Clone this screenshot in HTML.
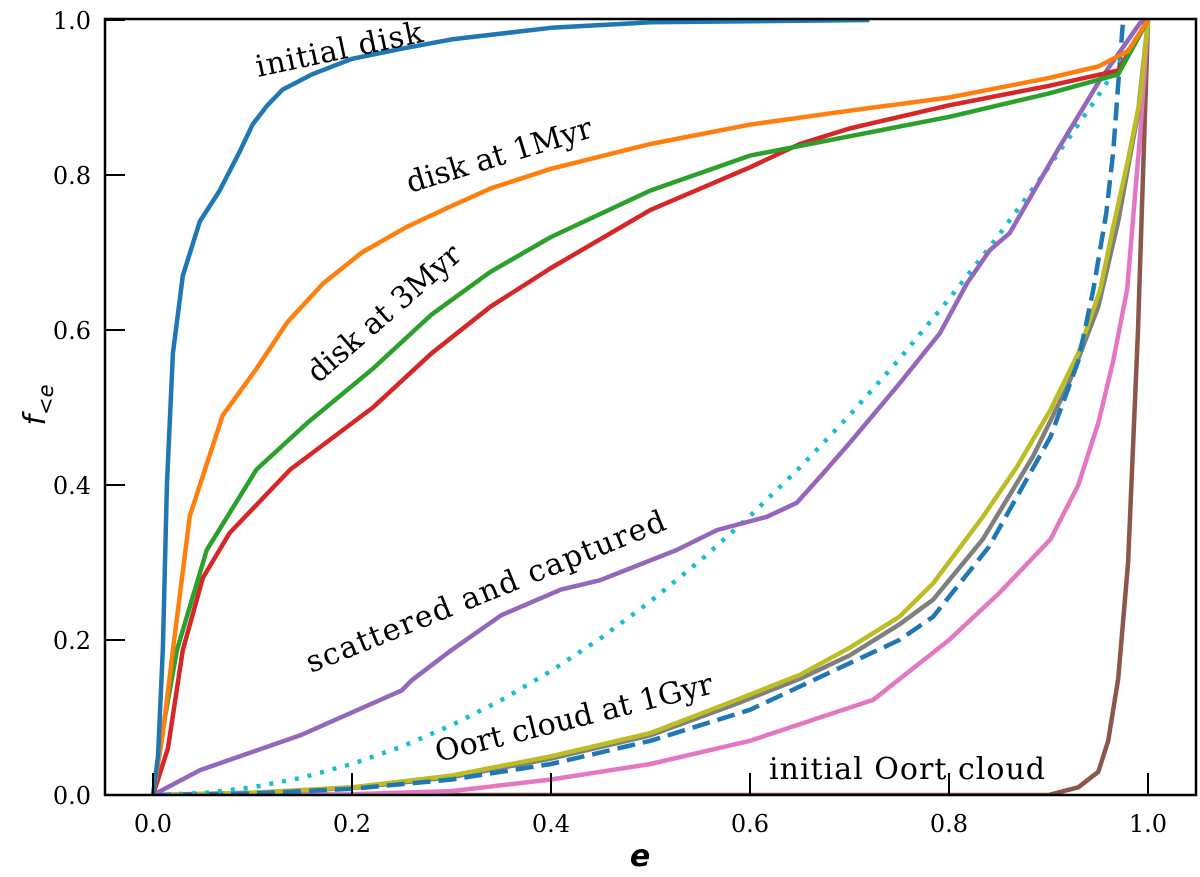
<!DOCTYPE html>
<html><head><meta charset="utf-8"><style>
body{margin:0;background:#fff;}
svg{display:block;font-family:"DejaVu Serif","Liberation Serif",serif;}
</style></head><body>
<svg id="chart" width="1200" height="877" viewBox="0 0 1200 877">
<defs><clipPath id="clip"><rect x="105" y="19" width="1091" height="776"/></clipPath></defs>
<g id="series" clip-path="url(#clip)"></g>
<rect x="105" y="19" width="1091" height="776" fill="none" stroke="#000" stroke-width="2.5"/>
<g id="axes"></g>
<g font-size="30" fill="#000">
<text transform="translate(258,77) rotate(-12)" textLength="170">initial disk</text>
<text transform="translate(410,193) rotate(-17)">disk at 1Myr</text>
<text transform="translate(318,384) rotate(-41)">disk at 3Myr</text>
<text transform="translate(311,673) rotate(-22)" textLength="385">scattered and captured</text>
<text transform="translate(438,762) rotate(-14)">Oort cloud at 1Gyr</text>
<text x="769" y="779" textLength="276">initial Oort cloud</text>
</g>
<text x="640" y="866" font-family="'DejaVu Sans',sans-serif" font-style="italic" font-weight="bold" font-size="30" text-anchor="middle">e</text>
<text transform="translate(45,405) rotate(-90)" font-family="'DejaVu Sans',sans-serif" font-style="italic" font-size="30" text-anchor="middle">f<tspan font-size="21" dy="8">&lt;e</tspan></text>
</svg>
<script>
const xTicks=[0,0.2,0.4,0.6,0.8,1.0];
const yTicks=[0,0.2,0.4,0.6,0.8,1.0];
const tickLabels=["0.0","0.2","0.4","0.6","0.8","1.0"];
const initDiskE=[0,0.005,0.01,0.014,0.02,0.03,0.047,0.067,0.087,0.1,0.115,0.13,0.16,0.2,0.25,0.3,0.4,0.5,0.72];
const initDiskF=[0,0.05,0.19,0.4,0.57,0.67,0.74,0.78,0.83,0.865,0.89,0.91,0.93,0.95,0.963,0.975,0.99,0.997,1.0];
const disk1E=[0,0.01,0.02,0.037,0.07,0.104,0.135,0.171,0.21,0.255,0.3,0.34,0.4,0.5,0.6,0.7,0.8,0.9,0.95,0.98,1.0];
const disk1F=[0,0.08,0.187,0.36,0.49,0.55,0.61,0.66,0.7,0.733,0.76,0.783,0.808,0.84,0.865,0.883,0.9,0.925,0.94,0.96,1.0];
const disk3E=[0,0.012,0.024,0.054,0.104,0.155,0.221,0.28,0.339,0.4,0.5,0.6,0.7,0.8,0.9,0.97,1.0];
const disk3F=[0,0.1,0.187,0.316,0.42,0.48,0.55,0.62,0.675,0.72,0.78,0.825,0.85,0.875,0.905,0.93,1.0];
const disk3bE=[0,0.015,0.03,0.05,0.077,0.138,0.221,0.28,0.339,0.4,0.5,0.6,0.65,0.7,0.8,0.9,0.97,1.0];
const disk3bF=[0,0.06,0.187,0.28,0.338,0.42,0.5,0.57,0.63,0.68,0.755,0.81,0.84,0.86,0.89,0.915,0.935,1.0];
const scatE=[0,0.047,0.148,0.25,0.26,0.3,0.35,0.41,0.449,0.526,0.567,0.617,0.647,0.67,0.7,0.751,0.791,0.818,0.841,0.861,0.909,0.952,0.992,1.0];
const scatF=[0,0.032,0.077,0.135,0.148,0.187,0.232,0.265,0.277,0.316,0.342,0.359,0.377,0.41,0.454,0.532,0.596,0.66,0.703,0.725,0.832,0.923,0.996,1.0];
const dotE=[0,0.05,0.1,0.15,0.2,0.25,0.3,0.35,0.4,0.45,0.5,0.55,0.6,0.65,0.7,0.75,0.8,0.85,0.9,0.95,1.0];
const dotF=[0,0.0025,0.01,0.0225,0.04,0.0625,0.09,0.1225,0.16,0.2025,0.25,0.3025,0.36,0.4225,0.49,0.5625,0.64,0.7225,0.81,0.9025,1.0];
const oliveE=[0,0.1,0.2,0.3,0.4,0.5,0.587,0.65,0.7,0.75,0.784,0.834,0.868,0.902,0.93,0.952,0.965,0.98,0.992,1.0];
const oliveF=[0,0.003,0.01,0.025,0.05,0.08,0.123,0.155,0.19,0.23,0.273,0.359,0.423,0.497,0.57,0.652,0.733,0.82,0.897,1.0];
const grayE=[0,0.1,0.2,0.3,0.4,0.5,0.587,0.65,0.7,0.75,0.784,0.834,0.884,0.92,0.95,0.97,0.99,1.0];
const grayF=[0,0.003,0.009,0.023,0.047,0.077,0.118,0.15,0.18,0.22,0.252,0.33,0.436,0.53,0.63,0.74,0.88,1.0];
const dashE=[0,0.1,0.2,0.3,0.4,0.5,0.6,0.7,0.75,0.784,0.84,0.902,0.93,0.945,0.958,0.965,0.972,0.975];
const dashF=[0,0.002,0.008,0.02,0.04,0.07,0.11,0.17,0.2,0.23,0.32,0.462,0.56,0.652,0.75,0.83,0.95,1.0];
const pinkE=[0,0.2,0.3,0.4,0.5,0.6,0.724,0.8,0.85,0.902,0.93,0.95,0.965,0.979,0.992,1.0];
const pinkF=[0,0.001,0.005,0.02,0.04,0.07,0.123,0.2,0.26,0.33,0.4,0.48,0.56,0.652,0.85,1.0];
const brownE=[0,0.9,0.93,0.95,0.96,0.97,0.98,0.99,0.995,1.0];
const brownF=[0,0,0.01,0.03,0.07,0.15,0.3,0.6,0.8,1.0];

const NS="http://www.w3.org/2000/svg";
const xs=e=>153+995*e;
const ys=f=>795-775*f;
const gS=document.getElementById('series');
const gA=document.getElementById('axes');
function line(name,E,F,color,dash){
  const p=document.createElementNS(NS,'polyline');
  p.setAttribute('points',E.map((e,i)=>xs(e).toFixed(1)+','+ys(F[i]).toFixed(1)).join(' '));
  p.setAttribute('fill','none');p.setAttribute('stroke',color);p.setAttribute('stroke-width','4.5');
  p.setAttribute('stroke-linejoin','round');
  if(dash)p.setAttribute('stroke-dasharray',dash);
  
  
  gS.appendChild(p);
}
line('series-initial-oort',brownE,brownF,'#8c564b');
line('series-pink',pinkE,pinkF,'#e377c2');
line('series-gray',grayE,grayF,'#7f7f7f');
line('series-oort-1gyr',oliveE,oliveF,'#bcbd22');
line('series-dashed',dashE,dashF,'#1f77b4','18,8');
line('series-dotted',dotE,dotF,'#17becf','4,9');
line('series-scattered',scatE,scatF,'#9467bd');
line('series-disk-3myr-red',disk3bE,disk3bF,'#d62728');
line('series-disk-3myr',disk3E,disk3F,'#2ca02c');
line('series-disk-1myr',disk1E,disk1F,'#ff7f0e');
line('series-initial-disk',initDiskE,initDiskF,'#1f77b4');
xTicks.forEach((t,i)=>{
  const l=document.createElementNS(NS,'line');
  l.setAttribute('x1',xs(t));l.setAttribute('x2',xs(t));l.setAttribute('y1',795);l.setAttribute('y2',773);
  l.setAttribute('stroke','#000');l.setAttribute('stroke-width','2');
  
  
  gA.appendChild(l);
  const tx=document.createElementNS(NS,'text');
  tx.setAttribute('x',xs(t));tx.setAttribute('y',832);tx.setAttribute('font-size','24');tx.setAttribute('text-anchor','middle');
  tx.textContent=tickLabels[i];
  
  
  gA.appendChild(tx);
});
yTicks.forEach((t,i)=>{
  const l=document.createElementNS(NS,'line');
  l.setAttribute('x1',105);l.setAttribute('x2',125);l.setAttribute('y1',ys(t));l.setAttribute('y2',ys(t));
  l.setAttribute('stroke','#000');l.setAttribute('stroke-width','2');
  
  
  gA.appendChild(l);
  const tx=document.createElementNS(NS,'text');
  tx.setAttribute('x',91);tx.setAttribute('y',ys(t)+9);tx.setAttribute('font-size','24');tx.setAttribute('text-anchor','end');
  tx.textContent=tickLabels[i];
  
  
  gA.appendChild(tx);
});
</script>
</body></html>
